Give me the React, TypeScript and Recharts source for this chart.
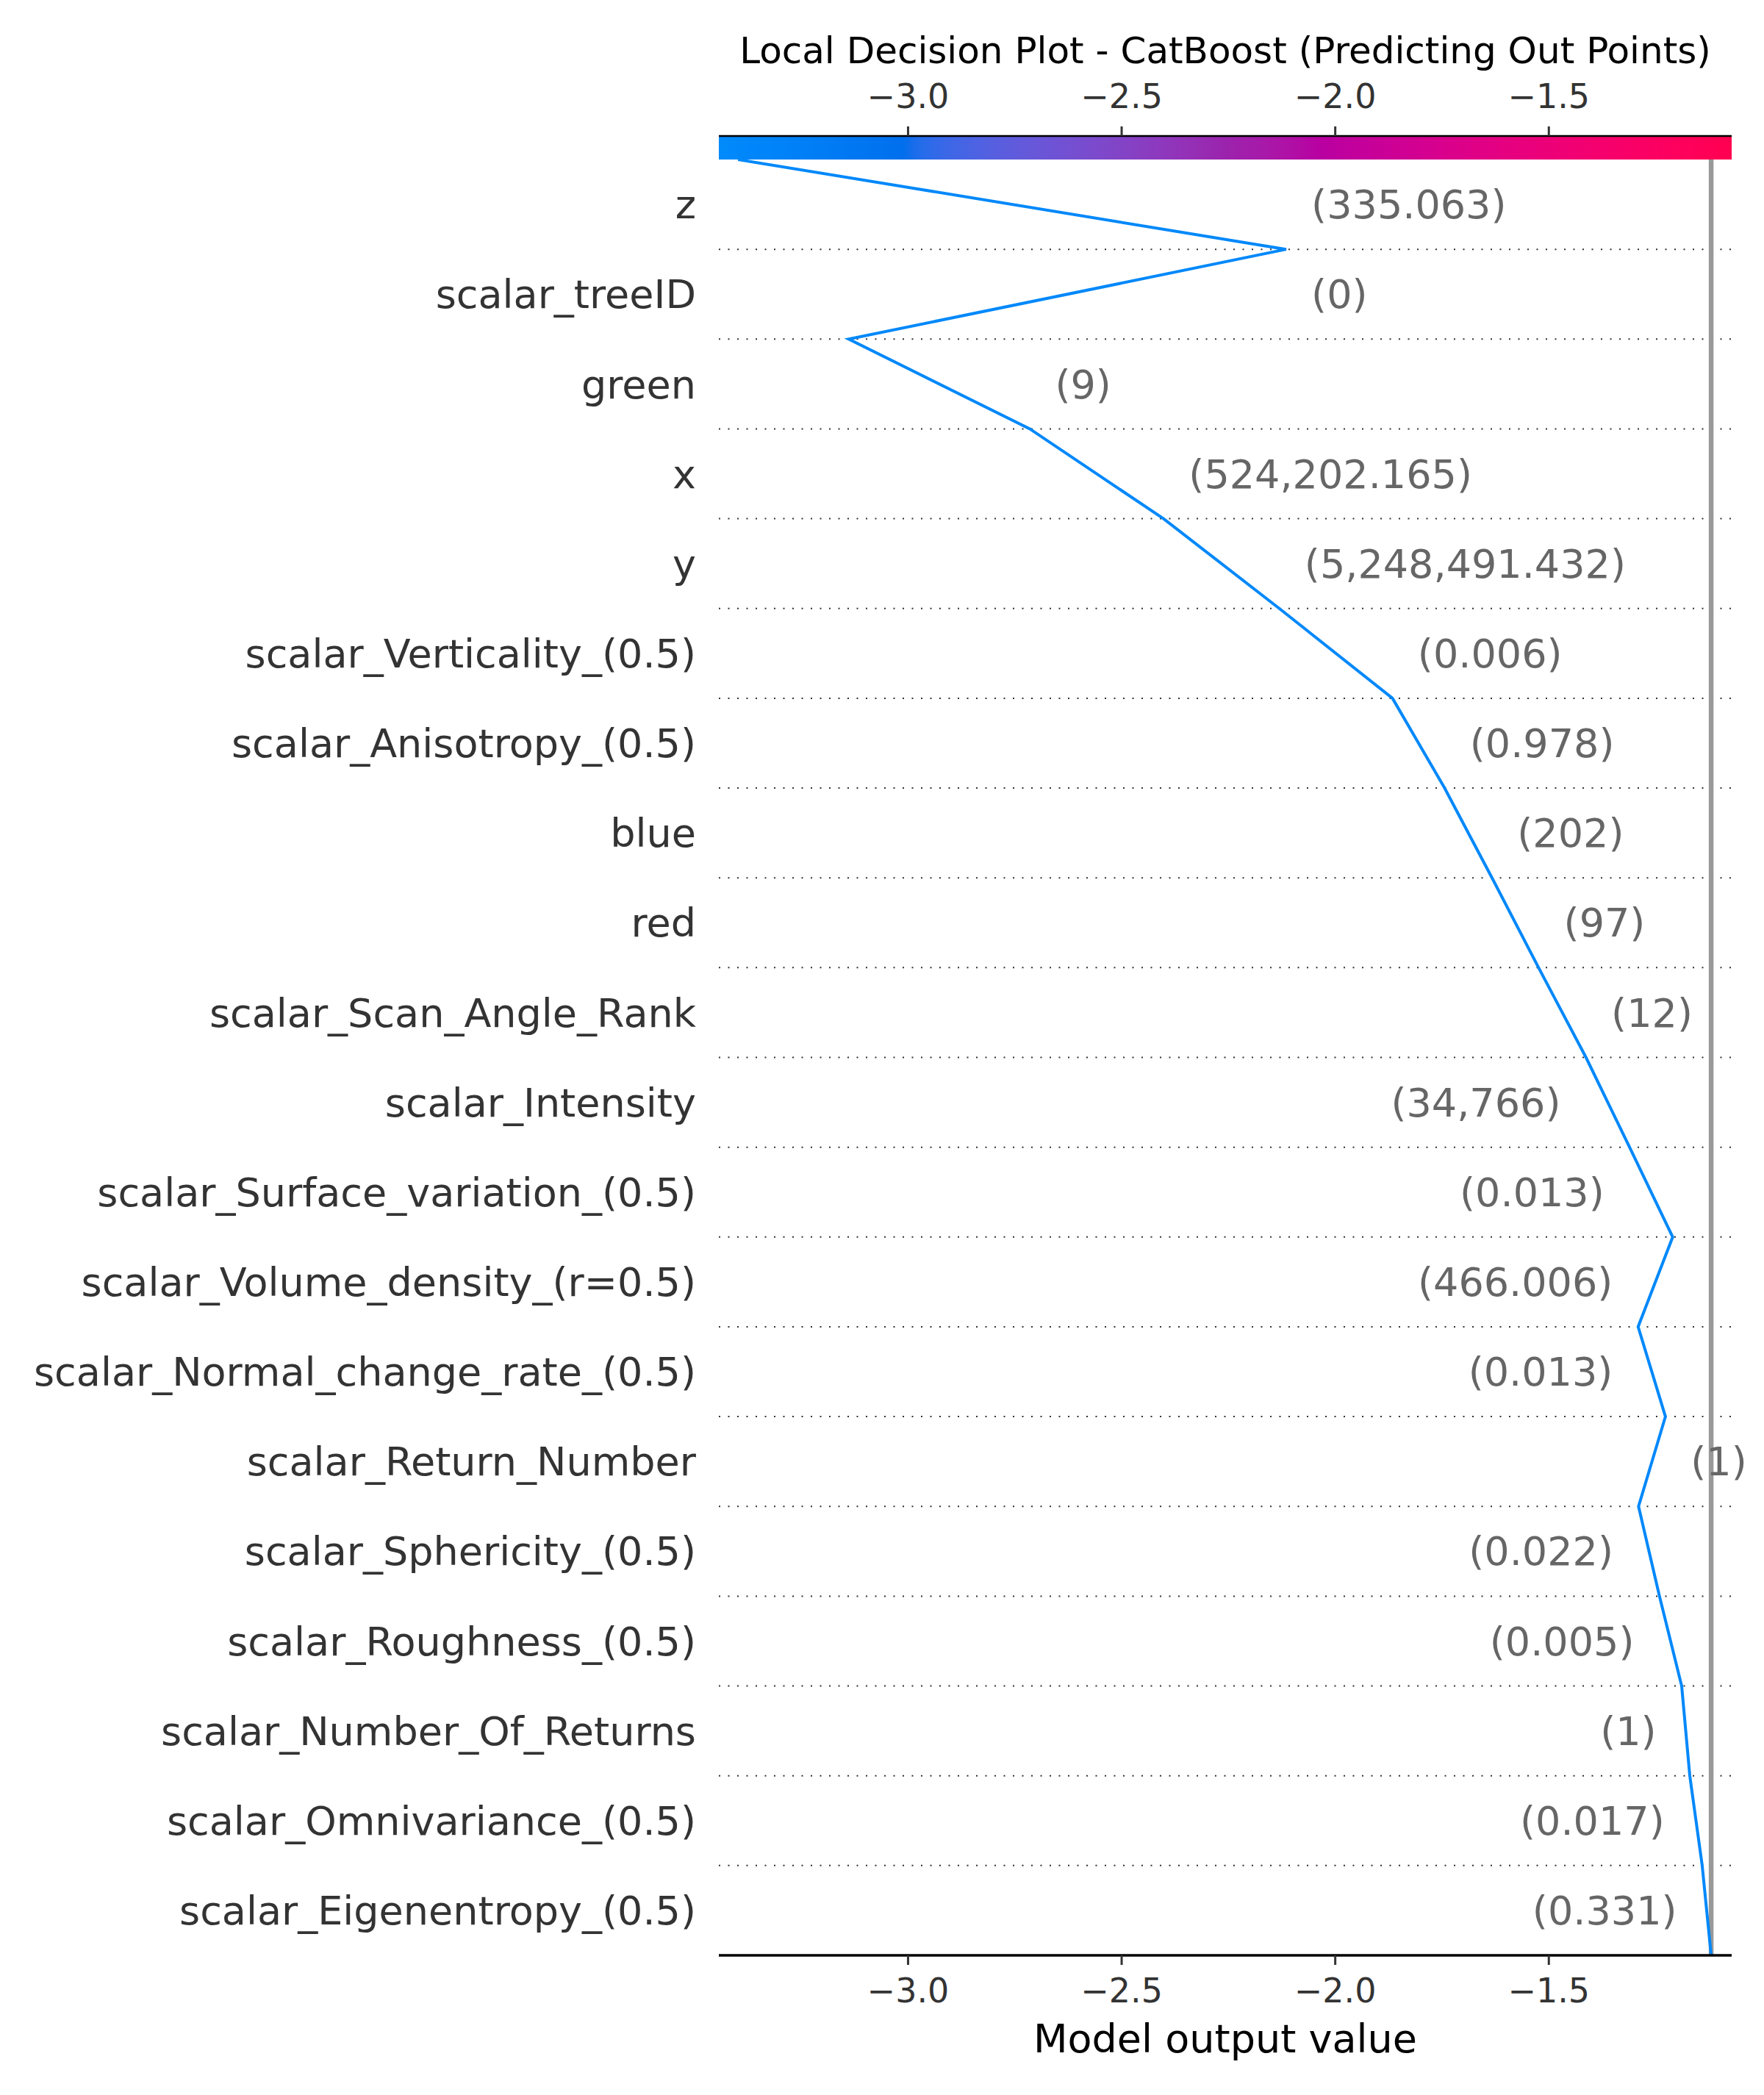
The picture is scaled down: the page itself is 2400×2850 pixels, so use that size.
import React from "react";
import {
  LineChart,
  Line,
  XAxis,
  YAxis,
  ReferenceLine,
  ReferenceArea,
  ReferenceDot,
} from "recharts";

const TITLE = "Local Decision Plot - CatBoost (Predicting Out Points)";
const X_LABEL = "Model output value";

const FEATURES = [
  "z",
  "scalar_treeID",
  "green",
  "x",
  "y",
  "scalar_Verticality_(0.5)",
  "scalar_Anisotropy_(0.5)",
  "blue",
  "red",
  "scalar_Scan_Angle_Rank",
  "scalar_Intensity",
  "scalar_Surface_variation_(0.5)",
  "scalar_Volume_density_(r=0.5)",
  "scalar_Normal_change_rate_(0.5)",
  "scalar_Return_Number",
  "scalar_Sphericity_(0.5)",
  "scalar_Roughness_(0.5)",
  "scalar_Number_Of_Returns",
  "scalar_Omnivariance_(0.5)",
  "scalar_Eigenentropy_(0.5)",
];

const FEATURE_VALUES = [
  "(335.063)",
  "(0)",
  "(9)",
  "(524,202.165)",
  "(5,248,491.432)",
  "(0.006)",
  "(0.978)",
  "(202)",
  "(97)",
  "(12)",
  "(34,766)",
  "(0.013)",
  "(466.006)",
  "(0.013)",
  "(1)",
  "(0.022)",
  "(0.005)",
  "(1)",
  "(0.017)",
  "(0.331)",
];

// cumulative model output at each row boundary, top (prediction) to bottom (base value)
const CUMULATIVE = [
  -3.398, -2.115, -3.139, -2.715, -2.402, -2.131, -1.866, -1.744, -1.633,
  -1.524, -1.413, -1.311, -1.21, -1.291, -1.227, -1.29, -1.241, -1.189, -1.17,
  -1.141, -1.12,
];

const BASE_VALUE = -1.12;

// which side of the line the feature value text sits on
const VALUE_SIDE = [
  "right", "right", "right", "right", "right", "right", "right", "right",
  "right", "right", "left", "left", "left", "left", "right", "left", "left",
  "left", "left", "left",
];

const X_DOMAIN = [-3.443, -1.072];
const X_TICKS = [-3, -2.5, -2, -1.5];
const CBAR_TOP = -0.262; // colorbar band above the first row

const FONT = "'DejaVu Sans', sans-serif";

// shap red_blue colormap (LCH interpolation)
function lchToRgb(l: number, c: number, h: number) {
  const a = c * Math.cos(h);
  const b = c * Math.sin(h);
  const fy = (l + 16) / 116;
  const fx = fy + a / 500;
  const fz = fy - b / 200;
  const inv = (t: number) => (t ** 3 > 0.008856 ? t ** 3 : (t - 16 / 116) / 7.787);
  const X = 0.95047 * inv(fx);
  const Y = inv(fy);
  const Z = 1.08883 * inv(fz);
  const lin = [
    3.2404542 * X - 1.5371385 * Y - 0.4985314 * Z,
    -0.969266 * X + 1.8760108 * Y + 0.041556 * Z,
    0.0556434 * X - 0.2040259 * Y + 1.0572252 * Z,
  ];
  return lin.map((v) => {
    const g = v > 0.0031308 ? 1.055 * Math.pow(v, 1 / 2.4) - 0.055 : 12.92 * v;
    return Math.round(Math.min(1, Math.max(0, g)) * 255);
  });
}

function cmap(t: number) {
  const n = 100;
  const i = Math.min(n - 1, Math.max(0, Math.round(t * (n - 1))));
  const half = n / 2;
  const l = i < half ? 54 + ((40 - 54) * i) / (half - 1) : 40 + ((54 - 40) * (i - half)) / (half - 1);
  const c = 70 + ((90 - 70) * i) / (n - 1);
  const h = 4.6588 + ((0.35470565 + 2 * Math.PI - 4.6588) * i) / (n - 1);
  const [r, g, b] = lchToRgb(l, c, h);
  return `rgb(${r},${g},${b})`;
}

const CMAP_STOPS = Array.from({ length: 100 }, (_, i) => i / 99);

const fmtTick = (v: number) => (v < 0 ? "\u2212" : "") + Math.abs(v).toFixed(1);

export default function App() {
  const data = CUMULATIVE.map((value, pos) => ({ pos, value }));
  const rowCenters = FEATURES.map((_, i) => i + 0.5);
  const lineColor = cmap((CUMULATIVE[0] - X_DOMAIN[0]) / (X_DOMAIN[1] - X_DOMAIN[0]));

  return (
    <div style={{ width: 2400, height: 2850, background: "#fff", fontFamily: FONT }}>
      <style>{`body{margin:0}`}</style>
      <LineChart
        width={2400}
        height={2850}
        data={data}
        layout="vertical"
        margin={{ top: 0, right: 44, bottom: 0, left: 0 }}
      >
        <defs>
          <linearGradient id="shapRedBlue" x1="0" y1="0" x2="1" y2="0">
            {CMAP_STOPS.map((t) => (
              <stop key={t} offset={t} stopColor={cmap(t)} />
            ))}
          </linearGradient>
        </defs>

        <XAxis
          type="number"
          dataKey="value"
          domain={X_DOMAIN}
          ticks={X_TICKS}
          allowDataOverflow
          tickFormatter={fmtTick}
          height={190}
          axisLine={{ stroke: "#000", strokeWidth: 3.3 }}
          tickLine={{ stroke: "#333", strokeWidth: 3 }}
          tickSize={13}
          tickMargin={18}
          tick={{ fontSize: 46, fill: "#333", fontFamily: FONT }}
          label={{
            value: X_LABEL,
            position: "insideBottom",
            offset: 58,
            fontSize: 54,
            fill: "#000",
            fontFamily: FONT,
          }}
        />
        <XAxis
          xAxisId="top"
          orientation="top"
          type="number"
          domain={X_DOMAIN}
          ticks={X_TICKS}
          allowDataOverflow
          tickFormatter={fmtTick}
          height={185}
          axisLine={{ stroke: "#000", strokeWidth: 2.5 }}
          tickLine={{ stroke: "#333", strokeWidth: 3 }}
          tickSize={13}
          tickMargin={25}
          tick={{ fontSize: 46, fill: "#333", fontFamily: FONT }}
          label={{
            value: TITLE,
            position: "insideTop",
            offset: 50,
            fontSize: 50,
            fill: "#000",
            fontFamily: FONT,
          }}
        />
        <YAxis
          type="number"
          dataKey="pos"
          domain={[CBAR_TOP, FEATURES.length]}
          allowDataOverflow
          ticks={rowCenters}
          interval={0}
          tickFormatter={(v: number) => FEATURES[Math.floor(v)]}
          width={978}
          axisLine={false}
          tickLine={false}
          tickSize={0}
          tickMargin={31}
          tick={{ fontSize: 54, fill: "#333", fontFamily: FONT }}
        />

        <ReferenceArea
          x1={X_DOMAIN[0]}
          x2={X_DOMAIN[1]}
          y1={CBAR_TOP}
          y2={0}
          fill="url(#shapRedBlue)"
          fillOpacity={1}
          stroke="none"
          ifOverflow="visible"
        />

        {FEATURES.slice(1).map((_, i) => (
          <ReferenceLine
            key={"grid" + i}
            y={i + 1}
            stroke="#333"
            strokeWidth={2}
            strokeDasharray="2 10.5"
          />
        ))}

        <ReferenceLine
          segment={[
            { x: BASE_VALUE, y: 0 },
            { x: BASE_VALUE, y: FEATURES.length },
          ]}
          stroke="#999"
          strokeWidth={6.5}
        />

        <Line
          type="linear"
          dataKey="value"
          stroke={lineColor}
          strokeWidth={4}
          dot={false}
          activeDot={false}
          isAnimationActive={false}
        />

        {FEATURE_VALUES.map((txt, i) => {
          const a = CUMULATIVE[i];
          const b = CUMULATIVE[i + 1];
          const right = VALUE_SIDE[i] === "right";
          const anchor = right ? Math.max(a, b) : Math.min(a, b);
          return (
            <ReferenceDot
              key={"val" + i}
              x={anchor}
              y={i + 0.5}
              r={1}
              fill="none"
              stroke="none"
              ifOverflow="visible"
              label={{
                content: (p: any) => {
                  const vb = p.viewBox || {};
                  const cx = vb.x + (vb.width || 0) / 2;
                  const cy = vb.y + (vb.height || 0) / 2;
                  return (
                    <text
                      x={right ? cx + 34.3 : cx - 34.3}
                      y={cy}
                      dy="0.355em"
                      textAnchor={right ? "start" : "end"}
                      fontSize={54}
                      fill="#666666"
                      fontFamily={FONT}
                    >
                      {txt}
                    </text>
                  );
                },
              }}
            />
          );
        })}
      </LineChart>
    </div>
  );
}
